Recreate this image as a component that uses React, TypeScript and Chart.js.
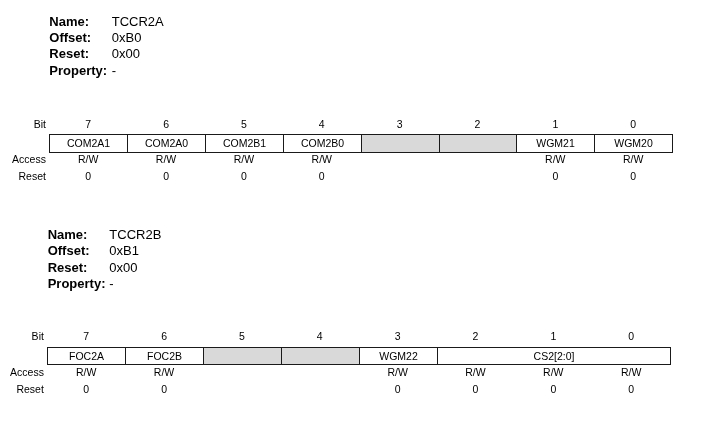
import { useEffect, useRef } from "react";
import { Chart, registerables } from "chart.js";

Chart.register(...registerables);

// ---- data ----
const bitNumbers = [7, 6, 5, 4, 3, 2, 1, 0];
const infoLabels = ["Name:", "Offset:", "Reset:", "Property:"];

const tccr2aInfo = ["TCCR2A", "0xB0", "0x00", "-"];
const tccr2aFields = ["COM2A1", "COM2A0", "COM2B1", "COM2B0", "", "", "WGM21", "WGM20"];
const tccr2aSpans = [1, 1, 1, 1, 1, 1, 1, 1];
const tccr2aAccess = ["R/W", "R/W", "R/W", "R/W", "", "", "R/W", "R/W"];
const tccr2aReset = ["0", "0", "0", "0", "", "", "0", "0"];

const tccr2bInfo = ["TCCR2B", "0xB1", "0x00", "-"];
const tccr2bFields = ["FOC2A", "FOC2B", "", "", "WGM22", "CS2[2:0]"];
const tccr2bSpans = [1, 1, 1, 1, 1, 3];
const tccr2bAccess = ["R/W", "R/W", "", "", "R/W", "R/W", "R/W", "R/W"];
const tccr2bReset = ["0", "0", "", "", "0", "0", "0", "0"];

// ---- layout (style / position, not data) ----
const CELL_PX = 77.85;
const LEFT_PX = 49.3;
const X_MIN = -LEFT_PX / CELL_PX;
const X_MAX = X_MIN + 710 / CELL_PX;

const registers = [
  {
    info: tccr2aInfo,
    fields: tccr2aFields,
    spans: tccr2aSpans,
    access: tccr2aAccess,
    reset: tccr2aReset,
    dx: 0,
    infoLabelDx: 0,
    infoValueDx: 0.802,
    infoY: [25.8, 42.2, 58.4, 74.6],
    bitY: 127.8,
    boxTop: 133.5,
    boxBottom: 151.5,
    accessY: 163.0,
    resetY: 180.4,
  },
  {
    info: tccr2bInfo,
    fields: tccr2bFields,
    spans: tccr2bSpans,
    access: tccr2bAccess,
    reset: tccr2bReset,
    dx: -0.026,
    infoLabelDx: 0.005,
    infoValueDx: 0.797,
    infoY: [238.6, 255.2, 271.8, 288.4],
    bitY: 339.8,
    boxTop: 346.5,
    boxBottom: 363.5,
    accessY: 375.8,
    resetY: 392.6,
  },
];

const FONT = "'Liberation Sans', Arial, sans-serif";
const SMALL = `10.5px ${FONT}`;
const TEXT = "#000000";
const LINE = "#1a1a1a";
const GREY = "#d9d9d9";

const registerPlugin = {
  id: "registerDiagram",
  afterDraw(chart: any) {
    const ctx = chart.ctx as CanvasRenderingContext2D;
    const xs = chart.scales.x;
    const ys = chart.scales.y;
    const px = (v: number) => xs.getPixelForValue(v);
    const py = (v: number) => ys.getPixelForValue(v);
    ctx.save();
    ctx.fillStyle = "#ffffff";
    ctx.fillRect(0, 0, chart.width, chart.height);

    registers.forEach((r) => {
      // info block
      for (let i = 0; i < infoLabels.length; i++) {
        ctx.fillStyle = TEXT;
        ctx.textAlign = "left";
        ctx.textBaseline = "alphabetic";
        ctx.font = `bold 13px ${FONT}`;
        ctx.fillText(infoLabels[i], px(r.dx + r.infoLabelDx), py(r.infoY[i]));
        ctx.font = `13px ${FONT}`;
        ctx.fillText(r.info[i], px(r.dx + r.infoValueDx), py(r.infoY[i]));
      }

      // row labels
      ctx.font = SMALL;
      ctx.textAlign = "right";
      const lx = px(r.dx) - 3.4;
      ctx.fillText("Bit", lx, py(r.bitY));
      ctx.fillText("Access", lx, py(r.accessY));
      ctx.fillText("Reset", lx, py(r.resetY));

      // bit numbers, access, reset
      ctx.textAlign = "center";
      bitNumbers.forEach((b, i) => {
        const cx = px(r.dx + i + 0.5);
        ctx.fillText(String(b), cx, py(r.bitY));
        if (r.access[i]) ctx.fillText(r.access[i], cx, py(r.accessY));
        if (r.reset[i]) ctx.fillText(r.reset[i], cx, py(r.resetY));
      });

      // cells
      const top = Math.round(py(r.boxTop)) + 0.5;
      const bottom = Math.round(py(r.boxBottom)) + 0.5;
      let col = 0;
      r.fields.forEach((f, i) => {
        const span = r.spans[i];
        const x0 = Math.round(px(r.dx + col)) + 0.5;
        const x1 = Math.round(px(r.dx + col + span)) + 0.5;
        ctx.fillStyle = f ? "#ffffff" : GREY;
        ctx.fillRect(x0, top, x1 - x0, bottom - top);
        ctx.strokeStyle = LINE;
        ctx.lineWidth = 1;
        ctx.strokeRect(x0, top, x1 - x0, bottom - top);
        if (f) {
          ctx.fillStyle = TEXT;
          ctx.font = SMALL;
          ctx.textAlign = "center";
          ctx.fillText(f, (x0 + x1) / 2, (top + bottom) / 2 + 3.8);
        }
        col += span;
      });
    });
    ctx.restore();
  },
};

export default function App() {
  const canvasRef = useRef<HTMLCanvasElement | null>(null);

  useEffect(() => {
    const canvas = canvasRef.current;
    if (!canvas) return;
    const chart = new Chart(canvas, {
      type: "scatter",
      data: { datasets: [] },
      options: {
        animation: false,
        responsive: false,
        devicePixelRatio: 1,
        layout: { padding: 0 },
        plugins: {
          legend: { display: false },
          title: { display: false },
          tooltip: { enabled: false },
        },
        events: [],
        scales: {
          x: { type: "linear", min: X_MIN, max: X_MAX, display: false },
          y: { type: "linear", min: 0, max: 435, reverse: true, display: false },
        },
      },
      plugins: [registerPlugin],
    });
    return () => chart.destroy();
  }, []);

  return (
    <canvas
      ref={canvasRef}
      width={710}
      height={435}
      style={{ position: "fixed", left: 0, top: 0, width: 710, height: 435 }}
    />
  );
}
